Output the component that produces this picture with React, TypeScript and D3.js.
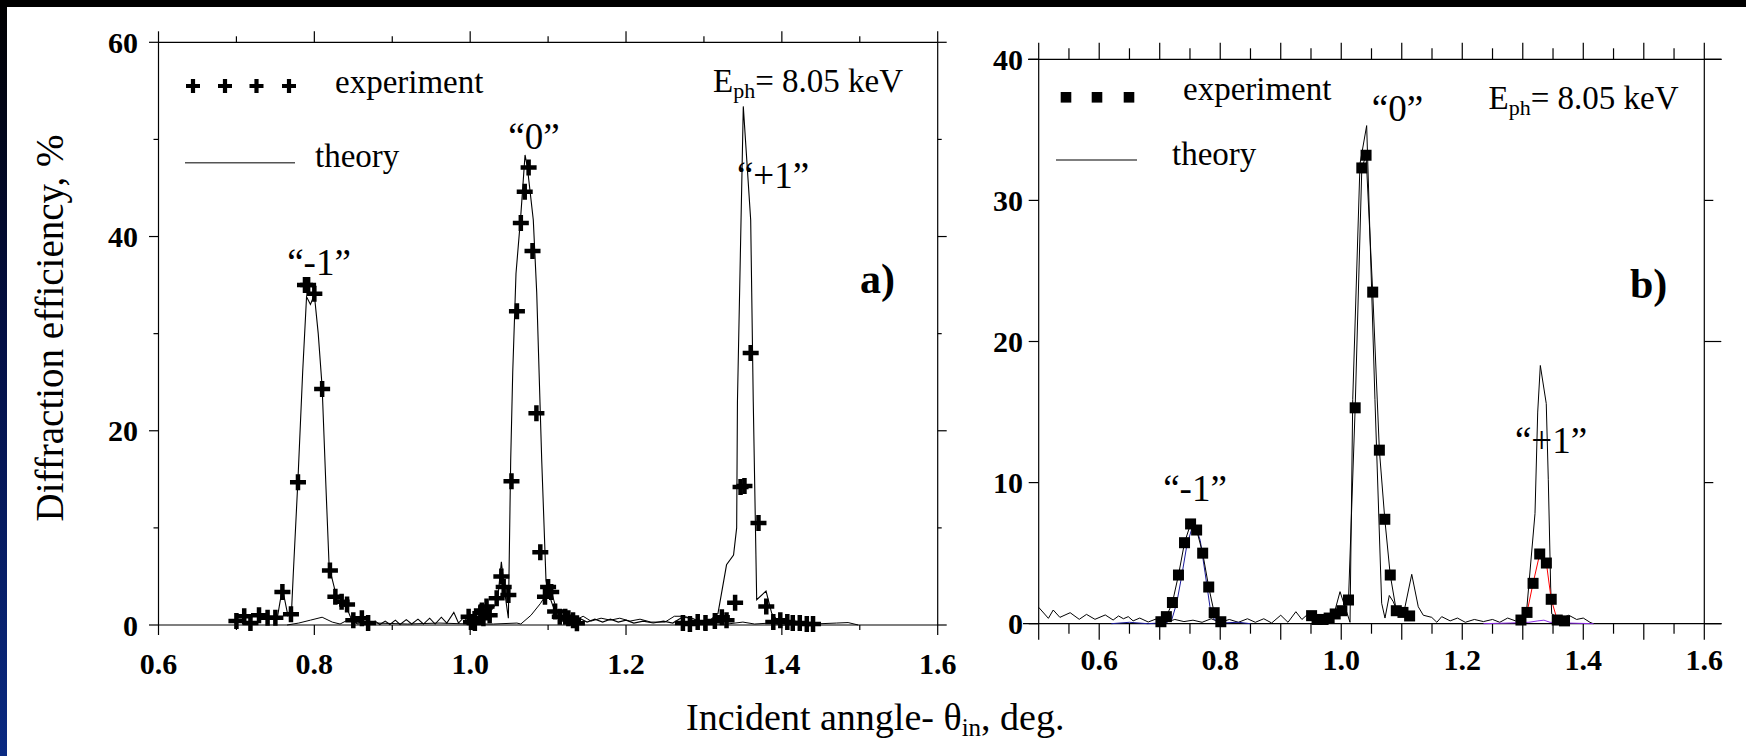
import React from 'react';
import * as d3 from 'd3';

// ---------- Panel a data ----------
const aExpX = [0.700,0.710,0.718,0.729,0.740,0.750,0.759,0.770,0.779,0.788,0.792,0.800,0.810,0.820,0.827,0.835,0.842,0.850,0.861,0.869,
  0.998,1.001,1.006,1.013,1.015,1.017,1.021,1.025,1.034,1.040,1.043,1.049,1.053,1.060,1.065,1.070,1.075,1.080,1.085,1.090,1.096,1.100,1.104,1.109,1.115,1.122,1.126,1.132,1.137,
  1.273,1.282,1.292,1.302,1.314,1.323,1.329,1.340,1.347,1.352,1.360,1.370,1.380,1.389,1.398,1.407,1.414,1.423,1.432,1.440];
const aExpY = [0.4,0.9,0.2,1.0,0.75,0.75,3.4,1.1,14.7,35.0,35.0,34.1,24.3,5.6,2.9,2.4,2.1,0.5,0.7,0.2,
  0.85,0.3,0.2,1.2,1.5,0.7,1.9,1.0,2.75,5.0,3.9,3.1,14.8,32.3,41.4,44.6,47.1,38.5,21.8,7.5,2.9,3.9,3.4,1.4,0.85,0.85,0.7,0.5,0.17,
  0.2,0.1,0.3,0.2,0.4,0.8,0.5,2.3,14.2,14.3,28.0,10.5,1.9,0.3,0.5,0.3,0.2,0.2,0.1,0.1];

const aThX = [0.750,0.753,0.759,0.766,0.771,0.773,0.779,0.785,0.790,0.795,0.800,0.805,0.810,0.815,0.819,0.829,0.842,0.848,0.855,0.865,0.871,0.878,0.884,0.891,0.897,0.904,0.910,0.918,0.925,0.933,0.940,0.948,0.955,0.963,0.970,0.979,0.985,0.992,0.998,1.005,1.012,1.020,1.028,1.035,1.040,1.045,1.049,1.052,1.0546,1.0588,1.0648,1.0704,1.0733,1.081,1.0854,1.0918,1.0973,1.100,1.106,1.112,1.118,1.125,1.132,1.140,1.150,1.160,1.170,1.180,1.190,1.200,1.210,1.222,1.235,1.248,1.260,1.272,1.285,1.296,1.308,1.318,1.329,1.338,1.342,1.343,1.3505,1.360,1.3633,1.3677,1.3797,1.387,1.395,1.410,1.430,1.450];
const aThY = [0.2,1.0,3.8,1.0,1.9,5.3,15.0,26,33.8,33.0,34.0,30,24.5,14,6.0,2.75,1.7,0.5,0.2,0.35,0.05,0.4,0.05,0.4,0.05,0.5,0.05,0.55,0.1,0.6,0.1,0.7,0.1,0.8,0.2,1.3,0.2,0.8,0.2,0.9,0.3,1.1,1.6,2.4,6.5,3.0,0.7,17,26,36.2,42,48.4,47.2,41.7,34.2,17,4.6,3.4,2.0,0.9,0.4,0.8,0.3,0.7,0.3,0.6,0.3,0.6,0.3,0.5,0.2,0.4,0.2,0.4,0.2,0.8,0.7,0.3,0.5,1.2,6.2,7.2,10,23,53.4,41.7,23,2.6,3.5,1.2,0.4,0.2,0.1,0.05];

const aLowX = [0.765,0.780,0.795,0.810,0.823,0.833,0.845,0.855,0.880,0.920,0.960,1.000,1.030,1.060,1.065,1.078,1.090,1.103,1.110,1.117,1.125,1.135,1.145,1.155,1.168,1.180,1.192,1.205,1.218,1.232,1.250,1.262,1.276,1.290,1.310,1.330,1.350,1.365,1.385,1.400,1.440,1.470,1.485,1.498];
const aLowY = [0.0,0.2,0.5,0.8,0.3,0.1,0.6,0.1,0.2,0.1,0.2,0.1,0.1,0.2,0.1,1.0,2.2,3.8,1.8,0.3,0.9,0.5,0.9,0.4,0.7,0.5,0.7,0.4,0.6,0.3,0.3,0.9,0.9,0.3,0.1,0.1,0.3,0.1,0.2,0.0,0.1,0.2,0.25,0.0];

// ---------- Panel b data ----------
const bExpX = [0.702,0.711,0.721,0.731,0.741,0.751,0.761,0.771,0.781,0.790,0.801,
  0.951,0.960,0.970,0.980,0.990,1.001,1.012,1.023,1.034,1.041,1.052,1.063,1.072,1.081,1.091,1.102,1.113];
const bExpY = [0.14,0.5,1.5,3.45,5.74,7.07,6.64,5.0,2.6,0.78,0.14,
  0.57,0.3,0.3,0.4,0.69,0.92,1.68,15.3,32.3,33.2,23.5,12.3,7.4,3.45,0.92,0.8,0.55];
const bExp1X = [1.297,1.307,1.317,1.328,1.339,1.347,1.357,1.369];
const bExp1Y = [0.26,0.8,2.86,4.94,4.3,1.73,0.26,0.2];

const bThX = [0.500,0.516,0.524,0.535,0.552,0.567,0.579,0.593,0.610,0.623,0.632,0.640,0.648,0.656,0.667,0.681,0.695,0.710,0.725,0.740,0.755,0.770,0.785,0.800,0.815,0.830,0.845,0.858,0.872,0.885,0.900,0.912,0.925,0.935,0.948,0.958,0.970,0.982,0.990,0.998,1.0145,1.019,1.031,1.042,1.0557,1.0668,1.0723,1.0794,1.086,1.096,1.1025,1.1165,1.1273,1.1356,1.1495,1.158,1.166,1.180,1.192,1.205,1.220,1.235,1.250,1.262,1.275,1.288,1.300,1.3065,1.3202,1.3247,1.329,1.3388,1.3422,1.3461,1.3478,1.3617,1.376,1.389,1.400,1.411,1.4166];
const bThY = [1.16,0.38,0.97,0.45,0.78,0.31,0.66,0.31,0.62,0.26,0.55,0.35,0.5,0.2,0.4,0.12,0.35,0.1,0.3,0.15,0.25,0.1,0.35,0.1,0.3,0.1,0.35,0.1,0.35,0.05,0.6,0.1,0.85,0.3,0.8,0.4,0.6,0.5,1.0,2.27,0.1,15.9,32.6,35.3,15.9,1.45,0.4,2.0,1.56,0.5,0.6,3.5,1.2,0.6,0.45,0.1,0.5,0.2,0.4,0.1,0.3,0.15,0.3,0.1,0.4,0.2,0.4,1.0,7.8,15,18.3,15.6,10.2,2.6,0.7,0.35,0.6,0.3,0.4,0.1,0.0];

const bBlueX = [0.620,0.650,0.680,0.700,0.712,0.720,0.728,0.736,0.745,0.755,0.760,0.767,0.775,0.783,0.790,0.800,0.830,0.850];
const bBlueY = [0.0,0.1,0.0,0.05,0.1,0.3,1.45,3.3,5.6,7.0,6.8,5.9,3.6,1.2,0.3,0.05,0.1,0.0];

const bPurpleX = [1.235,1.280,1.310,1.325,1.335,1.345,1.370,1.417];
const bPurpleY = [0.0,0.05,0.1,0.2,0.25,0.1,0.05,0.0];

// ---------- tick labels ----------
const aXLabels = ['0.6','0.8','1.0','1.2','1.4','1.6'];
const aYLabels = ['0','20','40','60'];
const bXLabels = ['0.6','0.8','1.0','1.2','1.4','1.6'];
const bYLabels = ['0','10','20','30','40'];

const SERIF = "'Liberation Serif', 'Times New Roman', Times, serif";

function Cross({ x, y, s, w }: { x: number; y: number; s: number; w: number }) {
  return <path d={`M${x - s / 2},${y}H${x + s / 2}M${x},${y - s / 2}V${y + s / 2}`} stroke="#000" strokeWidth={w} fill="none" />;
}

export default function App() {
  const xA = d3.scaleLinear().domain([0.6, 1.6]).range([158.5, 937.7]);
  const yA = d3.scaleLinear().domain([0, 60]).range([625, 42.3]);
  const xB = d3.scaleLinear().domain([0.5, 1.6]).range([1038.7, 1704.3]);
  const yB = d3.scaleLinear().domain([0, 40]).range([623.7, 59.3]);

  const mkLine = (xs: number[], ys: number[], sx: any, sy: any) =>
    d3.line<number>().x((_d, i) => sx(xs[i])).y((_d, i) => sy(ys[i]))(xs) || '';

  const aMajor = d3.range(0, 6).map(i => 0.6 + i * 0.2);
  const aMinor = d3.range(0, 5).map(i => 0.7 + i * 0.2);
  const aYMajor = [0, 20, 40, 60];
  const aYMinor = [10, 30, 50];
  const bMajor = d3.range(0, 12).map(i => 0.5 + i * 0.1);
  const bMinor = d3.range(0, 11).map(i => 0.55 + i * 0.1);
  const bY = [0, 10, 20, 30, 40];

  const tick = { stroke: '#000', strokeWidth: 1.2 };

  return (
    <svg width={1746} height={756} style={{ position: 'absolute', left: 0, top: 0, display: 'block' }} fontFamily={SERIF}>
      <defs>
        <linearGradient id="side" x1="0" y1="0" x2="0" y2="1">
          <stop offset="0" stopColor="#000000" />
          <stop offset="0.45" stopColor="#030f45" />
          <stop offset="1" stopColor="#0a2a82" />
        </linearGradient>
      </defs>
      <rect x={0} y={0} width={1746} height={756} fill="#ffffff" />
      <rect x={0} y={0} width={7} height={756} fill="url(#side)" />
      <rect x={0} y={0} width={1746} height={7} fill="#000" />

      {/* ================= Panel a ================= */}
      <g>
        <line x1={xA(0.6)} x2={xA(1.6)} y1={yA(0)} y2={yA(0)} {...tick} />
        <line x1={xA(0.6)} x2={xA(1.6)} y1={yA(60)} y2={yA(60)} {...tick} />
        <line x1={xA(0.6)} x2={xA(0.6)} y1={yA(0)} y2={yA(60)} {...tick} />
        <line x1={xA(1.6)} x2={xA(1.6)} y1={yA(0)} y2={yA(60)} {...tick} />
        {aMajor.map((v, i) => (
          <g key={'am' + i}>
            <line x1={xA(v)} x2={xA(v)} y1={yA(0)} y2={yA(0) + 10} {...tick} />
            <line x1={xA(v)} x2={xA(v)} y1={yA(60)} y2={yA(60) - 11} {...tick} />
          </g>
        ))}
        {aMinor.map((v, i) => (
          <g key={'an' + i}>
            <line x1={xA(v)} x2={xA(v)} y1={yA(0)} y2={yA(0) + 5} {...tick} />
            <line x1={xA(v)} x2={xA(v)} y1={yA(60)} y2={yA(60) - 6} {...tick} />
          </g>
        ))}
        {aYMajor.map((v, i) => (
          <g key={'aym' + i}>
            <line x1={xA(0.6) - 9.5} x2={xA(0.6)} y1={yA(v)} y2={yA(v)} {...tick} />
            <line x1={xA(1.6)} x2={xA(1.6) + 9} y1={yA(v)} y2={yA(v)} {...tick} />
          </g>
        ))}
        {aYMinor.map((v, i) => (
          <g key={'ayn' + i}>
            <line x1={xA(0.6) - 5} x2={xA(0.6)} y1={yA(v)} y2={yA(v)} {...tick} />
            <line x1={xA(1.6)} x2={xA(1.6) + 4} y1={yA(v)} y2={yA(v)} {...tick} />
          </g>
        ))}
        {aXLabels.map((t, i) => (
          <text key={'axl' + i} x={xA(+t)} y={674} fontSize={30} fontWeight="bold" textAnchor="middle">{t}</text>
        ))}
        {aYLabels.map((t, i) => (
          <text key={'ayl' + i} x={138} y={yA(+t) + 10.5} fontSize={30} fontWeight="bold" textAnchor="end">{t}</text>
        ))}

        <path d={mkLine(aLowX, aLowY, xA, yA)} fill="none" stroke="#000" strokeWidth={1} />
        <path d={mkLine(aThX, aThY, xA, yA)} fill="none" stroke="#000" strokeWidth={1.1} />
        {aExpX.map((x, i) => (
          <Cross key={'ac' + i} x={xA(x)} y={yA(aExpY[i])} s={16} w={4.5} />
        ))}

        {[193, 225, 256.5, 289].map((x, i) => (
          <Cross key={'alc' + i} x={x} y={86} s={14} w={4.2} />
        ))}
        <text x={335} y={93} fontSize={33}>experiment</text>
        <line x1={185} x2={295} y1={162.7} y2={162.7} stroke="#555" strokeWidth={1.5} />
        <text x={315} y={167} fontSize={33}>theory</text>

        <text x={319} y={275} fontSize={37} textAnchor="middle">{'\u201C-1\u201D'}</text>
        <text x={534} y={149} fontSize={37} textAnchor="middle">{'\u201C0\u201D'}</text>
        <text x={773} y={188} fontSize={37} textAnchor="middle">{'\u201C+1\u201D'}</text>
        <text x={713} y={92} fontSize={33}>E<tspan fontSize={22} dy={6}>ph</tspan><tspan dy={-6}>= 8.05 keV</tspan></text>
        <text x={860} y={293} fontSize={42} fontWeight="bold">a)</text>
      </g>

      {/* ================= Panel b ================= */}
      <g>
        <line x1={1023} x2={1721.7} y1={yB(0)} y2={yB(0)} {...tick} />
        <line x1={1028} x2={1721.7} y1={yB(40)} y2={yB(40)} {...tick} />
        <line x1={xB(0.5)} x2={xB(0.5)} y1={yB(0)} y2={yB(40)} {...tick} />
        <line x1={xB(1.6)} x2={xB(1.6)} y1={yB(0)} y2={yB(40)} {...tick} />
        {bMajor.map((v, i) => (
          <g key={'bm' + i}>
            <line x1={xB(v)} x2={xB(v)} y1={yB(0)} y2={yB(0) + 16} {...tick} />
            <line x1={xB(v)} x2={xB(v)} y1={yB(40)} y2={yB(40) - 16.6} {...tick} />
          </g>
        ))}
        {bMinor.map((v, i) => (
          <g key={'bn' + i}>
            <line x1={xB(v)} x2={xB(v)} y1={yB(0)} y2={yB(0) + 10} {...tick} />
            <line x1={xB(v)} x2={xB(v)} y1={yB(40)} y2={yB(40) - 11} {...tick} />
          </g>
        ))}
        {bY.map((v, i) => (
          <g key={'by' + i}>
            <line x1={xB(0.5) - 10} x2={xB(0.5)} y1={yB(v)} y2={yB(v)} {...tick} />
            <line x1={xB(1.6)} x2={xB(1.6) + (v % 20 === 0 ? 17 : 9)} y1={yB(v)} y2={yB(v)} {...tick} />
          </g>
        ))}
        {bXLabels.map((t, i) => (
          <text key={'bxl' + i} x={xB(+t)} y={670} fontSize={30} fontWeight="bold" textAnchor="middle">{t}</text>
        ))}
        {bYLabels.map((t, i) => (
          <text key={'byl' + i} x={1023} y={yB(+t) + 10.5} fontSize={30} fontWeight="bold" textAnchor="end">{t}</text>
        ))}

        <path d={mkLine(bThX, bThY, xB, yB)} fill="none" stroke="#000" strokeWidth={1} />
        <path d={mkLine(bBlueX, bBlueY, xB, yB)} fill="none" stroke="#1a1a9a" strokeWidth={1} />
        <path d={mkLine(bPurpleX, bPurpleY, xB, yB)} fill="none" stroke="#8a2be2" strokeWidth={1} />
        <path d={mkLine(bExpX.slice(0, 11), bExpY.slice(0, 11), xB, yB)} fill="none" stroke="#000" strokeWidth={1} />
        <path d={mkLine(bExpX.slice(11), bExpY.slice(11), xB, yB)} fill="none" stroke="#000" strokeWidth={1} />
        <path d={mkLine(bExp1X, bExp1Y, xB, yB)} fill="none" stroke="#ff0000" strokeWidth={1} />
        {bExpX.map((x, i) => (
          <rect key={'bs' + i} x={xB(x) - 5.5} y={yB(bExpY[i]) - 5.5} width={11} height={11} fill="#000" />
        ))}
        {bExp1X.map((x, i) => (
          <rect key={'bs1' + i} x={xB(x) - 5.5} y={yB(bExp1Y[i]) - 5.5} width={11} height={11} fill="#000" />
        ))}

        {[1066, 1097, 1129].map((x, i) => (
          <rect key={'bl' + i} x={x - 5.3} y={97.3 - 5.3} width={10.6} height={10.6} fill="#000" />
        ))}
        <text x={1183} y={100} fontSize={33}>experiment</text>
        <line x1={1056} x2={1137} y1={160} y2={160} stroke="#555" strokeWidth={1.5} />
        <text x={1172} y={165} fontSize={33}>theory</text>

        <text x={1397.5} y={121} fontSize={37} textAnchor="middle">{'\u201C0\u201D'}</text>
        <text x={1195} y={501} fontSize={37} textAnchor="middle">{'\u201C-1\u201D'}</text>
        <text x={1551} y={453} fontSize={37} textAnchor="middle">{'\u201C+1\u201D'}</text>
        <text x={1488.5} y={108.5} fontSize={33}>E<tspan fontSize={22} dy={6}>ph</tspan><tspan dy={-6}>= 8.05 keV</tspan></text>
        <text x={1630} y={298} fontSize={42} fontWeight="bold">b)</text>
      </g>

      <text x={686} y={730} fontSize={38}>Incident anngle- {'\u03B8'}<tspan fontSize={25} dy={6}>in</tspan><tspan dy={-6}>, deg.</tspan></text>
      <text transform="translate(63,328) rotate(-90)" fontSize={39} textAnchor="middle">Diffraction efficiency, %</text>
    </svg>
  );
}
